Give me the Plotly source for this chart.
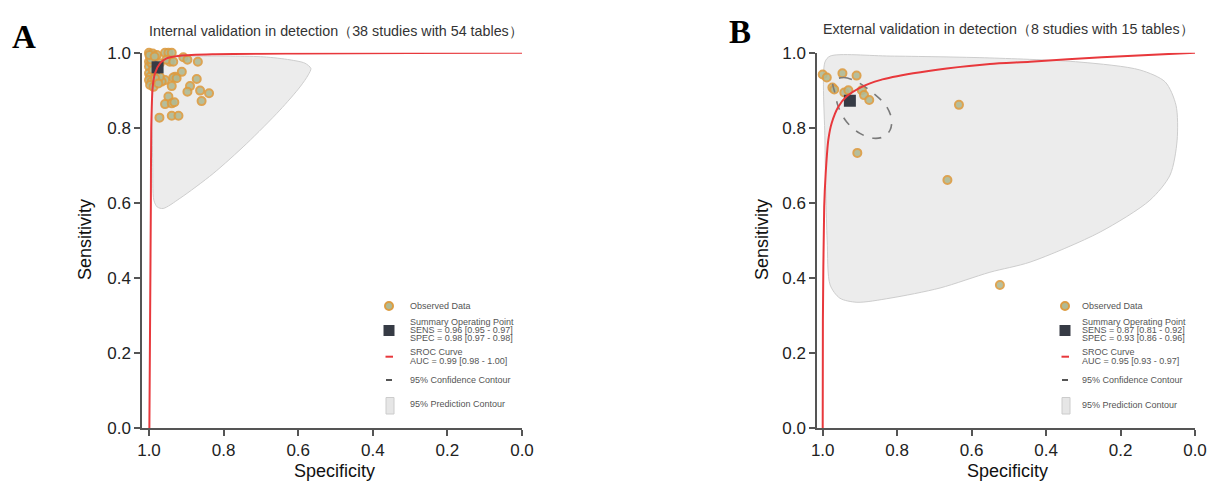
import plotly.graph_objects as go

W, H = 1213, 482

# ---------------- data ----------------
A_spec = [1.000,0.997,0.990,0.979,0.957,0.948,0.939,0.944,0.908,0.897,0.869,0.912,0.930,0.935,0.872,0.957,0.966,0.979,0.939,0.890,0.897,0.863,0.839,0.859,0.948,0.957,0.939,0.932,0.939,0.921,0.972,1.000,1.000,1.000,0.997,1.000,0.993,0.997,0.984,0.988,0.993,0.979,0.971,0.988,0.984,0.990,0.975,0.995,0.953,0.935,0.926,0.999,0.971,0.985]
A_sens = [1.000,0.989,0.998,0.994,1.000,1.000,1.000,0.976,0.988,0.981,0.976,0.949,0.936,0.934,0.930,0.927,0.923,0.927,0.911,0.911,0.896,0.899,0.892,0.871,0.883,0.863,0.865,0.868,0.832,0.832,0.827,0.976,0.963,0.945,0.936,0.927,0.923,0.914,0.949,0.963,0.972,0.945,0.936,0.909,0.932,0.954,0.918,0.982,0.981,0.976,0.932,0.994,0.972,0.990]
A_sum_spec, A_sum_sens = [0.977], [0.961]
A_sroc_spec = [0.999,0.997,0.995,0.994,0.990,0.984,0.970,0.953,0.917,0.830,0.600,0.300,0.000]
A_sroc_sens = [0.000,0.300,0.600,0.800,0.910,0.945,0.972,0.985,0.992,0.996,0.998,0.999,1.000]
A_pred_spec = [0.990,0.872,0.694,0.622,0.582,0.566,0.573,0.595,0.649,0.738,0.828,0.917,0.962,0.978,0.987,0.990,0.992,0.992,0.990]
A_pred_sens = [0.989,0.991,0.989,0.981,0.972,0.958,0.941,0.909,0.847,0.758,0.678,0.612,0.585,0.589,0.607,0.705,0.838,0.954,0.989]
A_conf_spec = [0.990,0.985,0.975,0.966,0.963,0.968,0.978,0.987,0.990]
A_conf_sens = [0.975,0.977,0.972,0.960,0.948,0.944,0.949,0.962,0.975]

B_spec = [1.000,0.989,0.947,0.909,0.974,0.969,0.942,0.931,0.895,0.889,0.875,0.634,0.907,0.665,0.524]
B_sens = [0.942,0.934,0.945,0.939,0.907,0.902,0.894,0.900,0.900,0.887,0.874,0.861,0.733,0.661,0.381]
B_sum_spec, B_sum_sens = [0.927], [0.872]
B_sroc_spec = [1.000,0.9995,0.996,0.992,0.985,0.976,0.958,0.936,0.895,0.846,0.757,0.667,0.551,0.443,0.250,0.000]
B_sroc_sens = [0.000,0.287,0.589,0.678,0.767,0.812,0.856,0.883,0.909,0.927,0.945,0.958,0.970,0.976,0.988,1.000]
B_pred_spec = [0.994,0.980,0.819,0.551,0.309,0.148,0.080,0.051,0.048,0.067,0.121,0.255,0.443,0.551,0.685,0.819,0.908,0.954,0.980,0.988,0.994,0.994]
B_pred_sens = [0.975,0.991,0.991,0.986,0.975,0.954,0.922,0.860,0.767,0.674,0.607,0.522,0.442,0.415,0.373,0.346,0.335,0.346,0.381,0.501,0.767,0.975]
B_conf_spec = [0.972,0.945,0.909,0.864,0.828,0.815,0.819,0.837,0.864,0.900,0.936,0.958,0.967,0.972]
B_conf_sens = [0.923,0.934,0.923,0.892,0.856,0.821,0.794,0.776,0.772,0.785,0.816,0.856,0.892,0.923]

tick_vals = [1.0, 0.8, 0.6, 0.4, 0.2, 0.0]
tick_text = ["1.0", "0.8", "0.6", "0.4", "0.2", "0.0"]

titles = ["Internal validation in detection（38 studies with 54 tables）",
          "External validation in detection（8 studies with 15 tables）"]
legend_texts = [
    ["Observed Data", "Summary Operating Point", "SENS = 0.96 [0.95 - 0.97]", "SPEC = 0.98 [0.97 - 0.98]",
     "SROC Curve", "AUC = 0.99 [0.98 - 1.00]", "95% Confidence Contour", "95% Prediction Contour"],
    ["Observed Data", "Summary Operating Point", "SENS = 0.87 [0.81 - 0.92]", "SPEC = 0.93 [0.86 - 0.96]",
     "SROC Curve", "AUC = 0.95 [0.93 - 0.97]", "95% Confidence Contour", "95% Prediction Contour"],
]

# ---------------- styles ----------------
FONT = "Liberation Sans, Arial, sans-serif"
RED = "#e8383c"
MK_FILL = "#b0ba94"
MK_LINE = "#dc9c42"
SQ = "#363b45"
PRED_FILL = "#ececec"
PRED_LINE = "#cdcdcd"
AX = "#555555"

def px(x):
    return x / W

def py(y):
    return 1 - y / H

fig = go.Figure()

panels = [
    dict(xa="x", ya="y", spec=A_spec, sens=A_sens, ss=A_sum_spec, se=A_sum_sens,
         rs=A_sroc_spec, re=A_sroc_sens, ps=A_pred_spec, pe=A_pred_sens,
         cs=A_conf_spec, ce=A_conf_sens),
    dict(xa="x2", ya="y2", spec=B_spec, sens=B_sens, ss=B_sum_spec, se=B_sum_sens,
         rs=B_sroc_spec, re=B_sroc_sens, ps=B_pred_spec, pe=B_pred_sens,
         cs=B_conf_spec, ce=B_conf_sens),
]

for p in panels:
    fig.add_trace(go.Scatter(x=p["ps"], y=p["pe"], xaxis=p["xa"], yaxis=p["ya"], mode="lines",
                             fill="toself", fillcolor=PRED_FILL,
                             line=dict(color=PRED_LINE, width=1, shape="spline", smoothing=0.8),
                             showlegend=False, hoverinfo="skip", cliponaxis=False))
    fig.add_trace(go.Scatter(x=p["spec"], y=p["sens"], xaxis=p["xa"], yaxis=p["ya"], mode="markers",
                             marker=dict(size=8, color=MK_FILL, line=dict(color=MK_LINE, width=2), opacity=0.9),
                             showlegend=False, cliponaxis=False))
    fig.add_trace(go.Scatter(x=p["cs"], y=p["ce"], xaxis=p["xa"], yaxis=p["ya"], mode="lines",
                             line=dict(color="#7a7a7a", width=1.6, dash="dash", shape="spline", smoothing=1.0),
                             showlegend=False, hoverinfo="skip", cliponaxis=False))
    fig.add_trace(go.Scatter(x=p["ss"], y=p["se"], xaxis=p["xa"], yaxis=p["ya"], mode="markers",
                             marker=dict(size=12, symbol="square", color=SQ, line=dict(width=0)),
                             showlegend=False, cliponaxis=False))
    fig.add_trace(go.Scatter(x=p["rs"], y=p["re"], xaxis=p["xa"], yaxis=p["ya"], mode="lines",
                             line=dict(color=RED, width=2, shape="spline", smoothing=0.7),
                             showlegend=False, hoverinfo="skip", cliponaxis=False))

axis_common = dict(showline=True, linecolor=AX, linewidth=1.5, ticks="outside", ticklen=6,
                   tickwidth=1.5, tickcolor=AX, showgrid=False, zeroline=False, automargin=False,
                   tickvals=tick_vals, ticktext=tick_text,
                   tickfont=dict(family=FONT, size=17, color="#222222"))

ydom = [py(428), py(52.7)]
fig.update_layout(
    width=W, height=H, margin=dict(l=0, r=0, t=0, b=0, autoexpand=False),
    paper_bgcolor="white", plot_bgcolor="white", showlegend=False,
    xaxis=dict(domain=[px(142), px(522)], range=[1 + 7 / 373, 0], anchor="y", **axis_common),
    yaxis=dict(domain=ydom, range=[0, 1], anchor="x", **axis_common),
    xaxis2=dict(domain=[px(817), px(1195)], range=[1 + 5.7 / 372.3, 0], anchor="y2", **axis_common),
    yaxis2=dict(domain=ydom, range=[0, 1], anchor="x2", **axis_common),
)

ann = []
shapes = []

# panel letters, titles, axis titles
ann.append(dict(x=px(24), y=py(37), text="<b>A</b>", font=dict(family="Liberation Serif, Times New Roman, serif", size=33, color="black")))
ann.append(dict(x=px(740), y=py(32), text="<b>B</b>", font=dict(family="Liberation Serif, Times New Roman, serif", size=33, color="black")))
ann.append(dict(x=px(336), y=py(31), text=titles[0], font=dict(family=FONT, size=14.3, color="#333333")))
ann.append(dict(x=px(1008), y=py(29), text=titles[1], font=dict(family=FONT, size=14.3, color="#333333")))
for xc in (335, 1007):
    ann.append(dict(x=px(xc), y=py(471), text="Specificity", font=dict(family=FONT, size=18, color="#111111")))
for xc in (85, 762):
    ann.append(dict(x=px(xc), y=py(240), text="Sensitivity", textangle=-90,
                    font=dict(family=FONT, size=18, color="#111111")))

# legends
leg = [
    dict(mx=389, tx=408, ys=[306, 321.7, 330, 338.2, 352.3, 360.7, 380, 404]),
    dict(mx=1065, tx=1080, ys=[306, 321.7, 330, 338.3, 352.3, 361, 380, 405]),
]
for i, L in enumerate(leg):
    for t, yy in zip(legend_texts[i], L["ys"]):
        ann.append(dict(x=px(L["tx"]), y=py(yy), text=t, xanchor="left",
                        font=dict(family=FONT, size=9, color="#555555")))
    mx = L["mx"]
    shapes.append(dict(type="circle", xref="paper", yref="paper",
                       x0=px(mx - 4), x1=px(mx + 4), y0=py(310), y1=py(302),
                       fillcolor=MK_FILL, line=dict(color=MK_LINE, width=2)))
    shapes.append(dict(type="rect", xref="paper", yref="paper",
                       x0=px(mx - 5.5), x1=px(mx + 5.5), y0=py(336), y1=py(325),
                       fillcolor=SQ, line=dict(width=0)))
    shapes.append(dict(type="line", xref="paper", yref="paper",
                       x0=px(mx - 3.5), x1=px(mx + 4), y0=py(356.7), y1=py(356.7),
                       line=dict(color=RED, width=2)))
    shapes.append(dict(type="line", xref="paper", yref="paper",
                       x0=px(mx - 3), x1=px(mx + 3), y0=py(380), y1=py(380),
                       line=dict(color="#555555", width=2)))
    shapes.append(dict(type="rect", xref="paper", yref="paper",
                       x0=px(mx - 3), x1=px(mx + 5), y0=py(414), y1=py(397.5),
                       fillcolor="#e6e6e6", line=dict(color="#cccccc", width=1)))

for a in ann:
    a.update(xref="paper", yref="paper", showarrow=False)
    a.setdefault("xanchor", "center")
    a.setdefault("yanchor", "middle")
fig.update_layout(annotations=ann, shapes=shapes)

fig.write_html("out.html")
